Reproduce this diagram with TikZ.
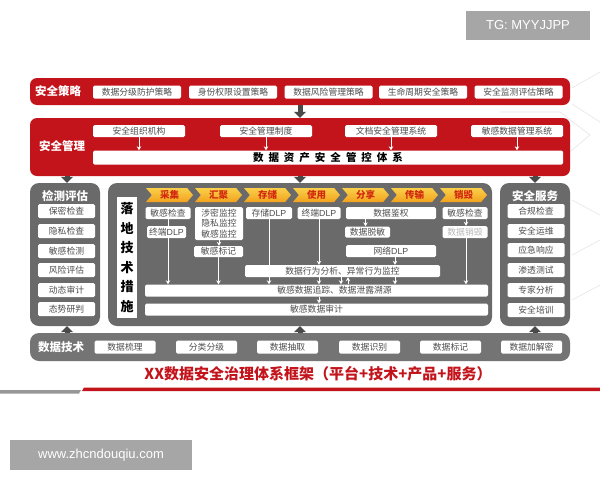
\documentclass[tikz,border=0pt]{standalone}
\usepackage{fontspec}
\setmainfont{Liberation Sans}
\newfontfamily\cjk{Noto Sans CJK SC}
\usetikzlibrary{arrows.meta,shapes.symbols}
\pgfdeclarelayer{bg}\pgfdeclarelayer{mid}
\pgfsetlayers{bg,mid,main}
\definecolor{cred}{HTML}{C3141C}
\definecolor{cgray}{HTML}{6A6A6A}
\definecolor{cgrayb}{HTML}{747474}
\definecolor{cdark}{HTML}{4A4A4A}
\definecolor{ctext}{HTML}{4E4E4E}
\definecolor{cwm}{HTML}{A6A6A6}
\definecolor{cstageT}{HTML}{FAD04A}
\definecolor{cstageB}{HTML}{F2A21E}
\definecolor{cstagetxt}{HTML}{D2280F}
\definecolor{cfaint}{HTML}{E6E6E6}
\tikzset{
  redbar/.style={fill=cred, rounded corners=7pt, inner sep=0pt},
  graybox/.style={fill=cgray, rounded corners=9pt, inner sep=0pt},
  itm/.style={fill=white, rounded corners=1.5pt, inner sep=0pt, minimum height=12pt, text=ctext, font=\cjk\fontsize{8.8}{9}\selectfont},
  barlabel/.style={text=white, inner sep=0pt, font=\cjk\bfseries\fontsize{11.5}{12}\selectfont},
  coltitle/.style={text=white, inner sep=0pt, font=\cjk\bfseries\fontsize{11.5}{12}\selectfont},
  stage/.style={signal, signal to=east, signal from=west, signal pointer angle=100, minimum width=47pt, minimum height=14pt, inner sep=0pt, top color=cstageT, bottom color=cstageB, draw=none, text=cstagetxt, font=\cjk\bfseries\fontsize{9.5}{10}\selectfont},
  warr/.style={draw=white, line width=0.9pt, -{Stealth[length=4pt,width=4.5pt]}},
  darr/.style={draw=cdark, line width=5pt, -{Triangle[length=6pt,width=12pt]}},
  wm/.style={fill=cwm, text=white, inner sep=0pt, font=\fontsize{13}{14}\selectfont},
}
\begin{document}
\begin{tikzpicture}[x=1pt,y=-1pt]
\useasboundingbox (0,0) rectangle (600,480);

\begin{pgfonlayer}{bg}
\fill[white] (0,0) rectangle (600,480);
% faint background lines
\draw[cfaint, line width=0.6pt] (572,88) -- (600,72);
\draw[cfaint, line width=0.6pt] (572,104) -- (600,122);
\draw[cfaint, line width=0.6pt] (500,112) -- (560,112) -- (590,135) -- (560,160);
\draw[cfaint, line width=0.6pt] (572,200) -- (600,215);
\draw[cfaint, line width=0.6pt] (572,255) -- (600,240);
\draw[cfaint, line width=0.6pt] (572,300) -- (600,285);
\node[redbar, minimum width=540pt, minimum height=27pt] (strat) at (300,91.5) {};
\node[redbar, minimum width=540pt, minimum height=58pt] (mgmt) at (300,147) {};
\node[graybox, minimum width=70pt, minimum height=143pt] (det) at (65,254.5) {};
\node[graybox, minimum width=384pt, minimum height=143pt] (ctr) at (300,254.5) {};
\node[graybox, minimum width=70pt, minimum height=143pt] (serv) at (535,254.5) {};
\node[graybox, fill=cgrayb, minimum width=540pt, minimum height=28pt] (tech) at (300,347) {};
\end{pgfonlayer}

% security strategy
\node[barlabel] (stratlbl) at (58,91.5) {安全策略};
\node[itm, minimum width=88pt, minimum height=13pt] (s1) at (137,92) {数据分级防护策略};
\node[itm, minimum width=88pt, minimum height=13pt] (s2) at (233,92) {身份权限设置策略};
\node[itm, minimum width=88pt, minimum height=13pt] (s3) at (328.5,92) {数据风险管理策略};
\node[itm, minimum width=88pt, minimum height=13pt] (s4) at (423,92) {生命周期安全策略};
\node[itm, minimum width=88pt, minimum height=13pt] (s5) at (518.5,92) {安全监测评估策略};

% security management
\node[barlabel] (mgmtlbl) at (62,146) {安全管理};
\node[itm, minimum width=92pt] (m1) at (139,131) {安全组织机构};
\node[itm, minimum width=92pt] (m2) at (266,131) {安全管理制度};
\node[itm, minimum width=92pt] (m3) at (391,131) {文档安全管理系统};
\node[itm, minimum width=92pt] (m4) at (517,131) {敏感数据管理系统};
\node[itm, minimum width=470pt, minimum height=14pt, text=black, font=\cjk\bfseries\fontsize{10.5}{11}\selectfont] (mbar) at (328,157.5)
  {数\hspace{5pt}据\hspace{5pt}资\hspace{5pt}产\hspace{5pt}安\hspace{5pt}全\hspace{5pt}管\hspace{5pt}控\hspace{5pt}体\hspace{5pt}系};
\begin{pgfonlayer}{mid}
\foreach \m in {m1,m2,m3,m4} \draw[warr] (\m.south) -- (\m.south |- mbar.north);
\end{pgfonlayer}

% detection column
\node[coltitle] (dett) at (65,196) {检测评估};
\node[itm, minimum width=57pt, minimum height=14pt] (d1) at (66.5,211) {保密检查};
\node[itm, minimum width=57pt, minimum height=14pt] (d2) at (66.5,231) {隐私检查};
\node[itm, minimum width=57pt, minimum height=14pt] (d3) at (66.5,251) {敏感检测};
\node[itm, minimum width=57pt, minimum height=14pt] (d4) at (66.5,270) {风险评估};
\node[itm, minimum width=57pt, minimum height=14pt] (d5) at (66.5,290) {动态审计};
\node[itm, minimum width=57pt, minimum height=14pt] (d6) at (66.5,309) {态势研判};

% service column
\node[coltitle] (servt) at (535,196) {安全服务};
\node[itm, minimum width=57pt, minimum height=14pt] (v1) at (536,211) {合规检查};
\node[itm, minimum width=57pt, minimum height=14pt] (v2) at (536,231) {安全运维};
\node[itm, minimum width=57pt, minimum height=14pt] (v3) at (536,250) {应急响应};
\node[itm, minimum width=57pt, minimum height=14pt] (v4) at (536,270) {渗透测试};
\node[itm, minimum width=57pt, minimum height=14pt] (v5) at (536,290) {专家分析};
\node[itm, minimum width=57pt, minimum height=14pt] (v6) at (536,310) {安全培训};

% center
\node[fill=white, inner sep=0pt, minimum width=20pt, minimum height=121pt, align=center, text=black, font=\cjk\bfseries\fontsize{13}{19.5}\selectfont] (vert) at (127,257.5) {落\\地\\技\\术\\措\\施};
\node[stage] (g1) at (169.5,195) {采集};
\node[stage] (g2) at (218.5,195) {汇聚};
\node[stage] (g3) at (267.5,195) {存储};
\node[stage] (g4) at (316.5,195) {使用};
\node[stage] (g5) at (365.5,195) {分享};
\node[stage] (g6) at (414.5,195) {传输};
\node[stage] (g7) at (463.5,195) {销毁};

\node[itm, minimum width=45pt] (c1a) at (168,213) {敏感检查};
\node[itm, minimum width=39pt] (c1b) at (166.5,232) {终端\fontspec{Liberation Sans}DLP};
\node[itm, minimum width=48pt, minimum height=33pt, align=center, font=\cjk\fontsize{8.8}{10.3}\selectfont] (c2a) at (219,223.5) {涉密监控\\隐私监控\\敏感监控};
\node[itm, minimum width=49pt, minimum height=11pt] (c2b) at (218.5,251.5) {敏感标记};
\node[itm, minimum width=46pt] (c3) at (269,213) {存储\fontspec{Liberation Sans}DLP};
\node[itm, minimum width=43pt] (c4) at (319,213) {终端\fontspec{Liberation Sans}DLP};
\node[itm, minimum width=90pt] (c5a) at (391,213) {数据鉴权};
\node[itm, minimum width=45pt, minimum height=11pt] (c5b) at (367.5,232) {数据脱敏};
\node[itm, minimum width=90pt] (c5c) at (391,251) {网络\fontspec{Liberation Sans}DLP};
\node[itm, minimum width=45pt] (c7a) at (465,213) {敏感检查};
\node[itm, minimum width=45pt, text=black!28] (c7b) at (465,232) {数据销毁};
\node[itm, minimum width=195pt] (beh) at (342.5,271) {数据行为分析、异常行为监控};
\node[itm, minimum width=343pt] (trace) at (316.5,290.5) {\hspace*{36pt}敏感数据追踪、数据泄露溯源};
\node[itm, minimum width=343pt] (audit) at (316.5,309.5) {敏感数据审计};

\begin{pgfonlayer}{mid}
\draw[warr] (c1a.south) -- (c1a.south |- trace.north);
\draw[warr] (c2a.south) -- (c2a.south |- c2b.north);
\draw[warr] (c2b.south) -- (c2b.south |- trace.north);
\draw[warr] (c3.south) -- (c3.south |- trace.north);
\draw[warr] (c4.south) -- (c4.south |- beh.north);
\draw[warr] (c4.south |- beh.south) -- (c4.south |- trace.north);
\draw[warr] (c4.south |- trace.south) -- (c4.south |- audit.north);
\draw[warr] ([xshift=-1.5pt]beh.south) -- ([xshift=-1.5pt]beh.south |- trace.north);
\draw[warr] ([xshift=5.5pt]beh.south |- trace.north) -- ([xshift=5.5pt]beh.south);
\draw[warr] ([xshift=-2pt]c5b.south |- c5a.south) -- ([xshift=-2pt]c5b.north);
\draw[warr] ([xshift=4pt]c5c.south) -- ([xshift=4pt]c5c.south |- beh.north);
\draw[warr] ([xshift=4pt]c5c.south |- beh.south) -- ([xshift=4pt]c5c.south |- trace.north);
\draw[warr] ([xshift=1pt]c7a.south) -- ([xshift=1pt]c7b.north);
\draw[warr] ([xshift=1pt]c7b.south) -- ([xshift=1pt]c7b.south |- trace.north);
\end{pgfonlayer}

% data technology
\node[barlabel] (techlbl) at (61,347) {数据技术};
\node[itm, minimum width=61pt, minimum height=13pt] (t1) at (125,347) {数据梳理};
\node[itm, minimum width=61pt, minimum height=13pt] (t2) at (206.5,347) {分类分级};
\node[itm, minimum width=61pt, minimum height=13pt] (t3) at (287.5,347) {数据抽取};
\node[itm, minimum width=61pt, minimum height=13pt] (t4) at (369.5,347) {数据识别};
\node[itm, minimum width=61pt, minimum height=13pt] (t5) at (450.5,347) {数据标记};
\node[itm, minimum width=61pt, minimum height=13pt] (t6) at (531.5,347) {数据加解密};

% dark arrows between layers
\draw[darr] (strat.south) -- (mgmt.north);
\draw[darr] ([xshift=2pt]det.north |- mgmt.south) -- ([xshift=2pt]det.north);
\draw[darr] (ctr.north |- mgmt.south) -- (ctr.north);
\draw[darr] (serv.north |- mgmt.south) -- (serv.north);
\draw[darr] ([xshift=2pt]det.south |- tech.north) -- ([xshift=2pt]det.south);
\draw[darr] (ctr.south |- tech.north) -- (ctr.south);
\draw[darr] (serv.south |- tech.north) -- (serv.south);

% title
\node[text=cred, inner sep=0pt, font=\cjk\bfseries\fontsize{15}{16}\selectfont] (title) at (318,374) {XX数据安全治理体系框架（平台+技术+产品+服务）};
\fill[cgray!70] (0,390) -- (81,390) -- (79,393.5) -- (0,393.5) -- cycle;
\fill[cred] (84,387.5) -- (600,387.5) -- (600,391) -- (82,391) -- cycle;

% watermarks
\node[wm, minimum width=124pt, minimum height=29pt] (tg) at (528,25.5) {TG: MYYJJPP};
\node[wm, minimum width=182pt, minimum height=30pt] (www) at (101,455) {www.zhcndouqiu.com};
\end{tikzpicture}
\end{document}
